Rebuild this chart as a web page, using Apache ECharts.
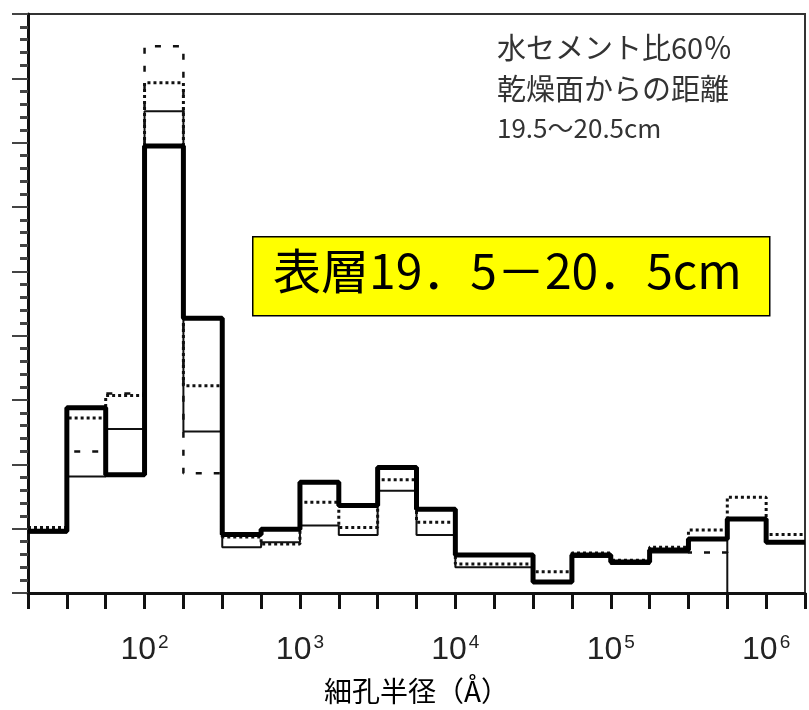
<!DOCTYPE html>
<html>
<head>
<meta charset="utf-8">
<script src="https://cdn.jsdelivr.net/npm/echarts@6/dist/echarts.min.js"></script>
<style>
html,body{margin:0;padding:0;background:#fff;}
#chart{width:809px;height:710px;}
</style>
</head>
<body>
<div id="chart"></div>
<script>
// log10 of pore radius (Å): bin edges, quarter-decade bins
const binEdges = [1.25,1.5,1.75,2,2.25,2.5,2.75,3,3.25,3.5,3.75,4,4.25,4.5,4.75,5,5.25,5.5,5.75,6,6.25];
// histogram heights (arbitrary units, axis 0–9)
const thickVals  = [0.96,2.88,1.84,6.95,4.27,0.91,0.99,1.72,1.36,1.95,1.30,0.59,0.59,0.17,0.59,0.48,0.67,0.84,1.15,0.79];
const thinVals   = [0.94,1.81,2.55,7.49,2.51,0.71,0.79,1.05,0.90,1.59,0.90,0.40,0.40,0.17,0.56,0.45,0.63,0.84];
const dottedVals = [1.02,2.72,3.07,7.93,3.22,0.87,0.76,1.41,1.02,1.76,1.10,0.45,0.45,0.33,0.62,0.51,0.71,0.98,1.49,0.91];
const dashVals   = [0.96,2.20,3.10,8.50,1.86,0.91,0.99,1.72,1.36,1.95,1.30,0.59,0.59,0.17,0.59,0.48,0.67,0.63,1.15,0.79];
const decadeTicks = [2,3,4,5,6];
const noteLines = ['水セメント比60％','乾燥面からの距離','19.5～20.5cm'];
const boxTitle = '表層19．5－20．5cm';
const axisTitle = '細孔半径（Å）';

function stepData(vals, dropToZero){
  const pts = vals.map((v,i)=>[binEdges[i], v]);
  pts.push([binEdges[vals.length], dropToZero ? 0 : vals[vals.length-1]]);
  return pts;
}

const chart = echarts.init(document.getElementById('chart'), null, {renderer:'canvas'});
const cjk = "'Noto Sans CJK JP', 'Noto Sans', sans-serif";
const option = {
  animation:false,
  backgroundColor:'#fff',
  grid:{left:28,right:4,top:14,bottom:114,show:true,borderColor:'#333',borderWidth:2,backgroundColor:'transparent'},
  xAxis:{
    type:'value',min:1.25,max:6.25,interval:0.25,
    name:axisTitle,nameLocation:'middle',nameGap:84,
    nameTextStyle:{fontSize:28,color:'#000',fontFamily:cjk},
    axisLine:{show:true,lineStyle:{color:'#111',width:3}},
    axisTick:{show:true,inside:false,length:16,lineStyle:{color:'#111',width:3}},
    splitLine:{show:false},
    axisLabel:{
      interval:0,margin:40,color:'#222',fontFamily:'Liberation Sans',fontSize:32,
      formatter:function(v){
        const r=Math.round(v);
        if(Math.abs(v-r)<1e-6 && decadeTicks.indexOf(r)>=0) return '{base|10}{sup|'+r+'}';
        return '';
      },
      rich:{
        base:{fontSize:32,color:'#222',fontFamily:'Liberation Sans',lineHeight:34},
        sup:{fontSize:19,color:'#222',fontFamily:'Liberation Sans',verticalAlign:'top',lineHeight:34,padding:[0,0,16,2]}
      }
    }
  },
  yAxis:{
    type:'value',min:0,max:9,interval:1,
    axisLine:{show:true,lineStyle:{color:'#111',width:3}},
    axisTick:{show:true,inside:false,length:16,lineStyle:{color:'#444',width:2}},
    minorTick:{show:true,splitNumber:5,length:8,lineStyle:{color:'#444',width:3}},
    axisLabel:{show:false},
    splitLine:{show:false}
  },
  series:[
    {type:'line',step:'end',data:stepData(dashVals,false),showSymbol:false,z:2,
     lineStyle:{color:'#111',width:2.5,type:[6,12]}},
    {type:'line',step:'end',data:stepData(dottedVals,false),showSymbol:false,z:3,
     lineStyle:{color:'#111',width:3,type:[3,3]}},
    {type:'line',step:'end',data:stepData(thinVals,true),showSymbol:false,z:4,
     lineStyle:{color:'#111',width:2}},
    {type:'line',step:'end',data:stepData(thickVals,false),showSymbol:false,z:5,
     lineStyle:{color:'#000',width:5}}
  ],
  graphic:[
    {type:'text',left:497,top:33,style:{text:noteLines[0],font:'29px '+cjk,fill:'#333'}},
    {type:'text',left:497,top:74,style:{text:noteLines[1],font:'29px '+cjk,fill:'#333'}},
    {type:'text',left:497,top:115,style:{text:noteLines[2],font:'26px '+cjk,fill:'#333'}},
    {type:'rect',left:252,top:236,shape:{width:517,height:79},style:{fill:'#ffff00',stroke:'#000',lineWidth:1.5},z:10},
    {type:'text',left:273,top:247,z:11,style:{text:boxTitle,font:'48px '+cjk,fill:'#000'}}
  ]
};
chart.setOption(option);
</script>
</body>
</html>
